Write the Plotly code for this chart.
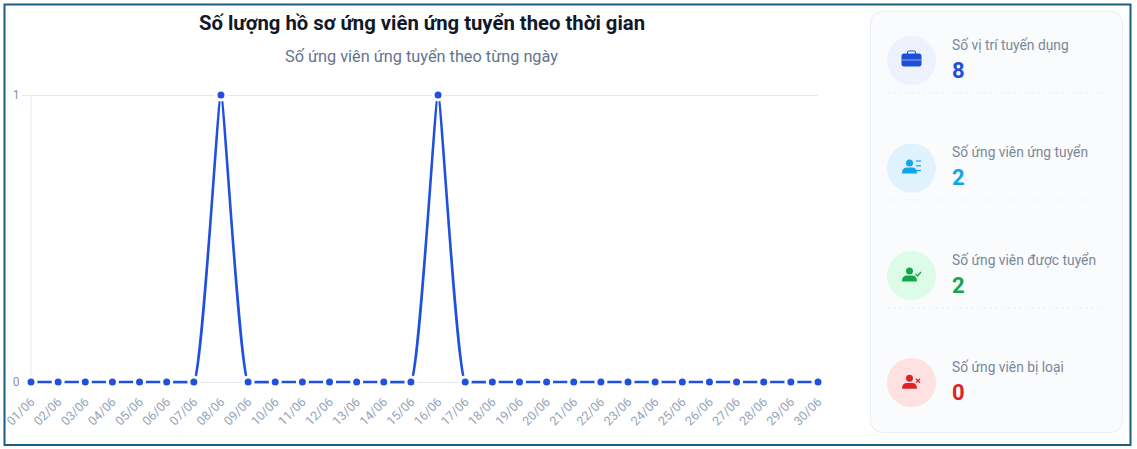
import plotly.graph_objects as go

W, H = 1137, 449
days = [f"{d:02d}/06" for d in range(1, 31)]
applications = [0,0,0,0,0,0,0,1,0,0,0,0,0,0,0,1,0,0,0,0,0,0,0,0,0,0,0,0,0,0]
y_ticks = [0, 1]
title_text = "Số lượng hồ sơ ứng viên ứng tuyển theo thời gian"
subtitle_text = "Số ứng viên ứng tuyển theo từng ngày"
stat_labels = ["Số vị trí tuyến dụng", "Số ứng viên ứng tuyển", "Số ứng viên được tuyển", "Số ứng viên bị loại"]
stat_values = [8, 2, 2, 0]
stat_colors = ["#1d4ed8", "#0ea5e9", "#16a34a", "#dc2626"]
stat_bgs = ["#eef2ff", "#e0f2fe", "#dcfce7", "#fee2e2"]
stat_centers = [60.5, 168, 275.5, 382.5]
stat_rules = [93, 200, 308, 417]

FONT = "Roboto"
LINE = "#2050de"
X0, X1, Y1, Y0 = 31, 818, 95, 382
PAD = 4     # px of breathing room so the flat line at zero is not clipped
CLIP = 1.3  # px below zero that the smoothed peaks may reach
pad_v = PAD / (Y0 - Y1)
clip_v = CLIP / (Y0 - Y1)
px = lambda x: x / W
py = lambda y: 1 - y / H

fig = go.Figure()

# flat stretches: straight line, broken at non-zero days
flat_y = [None if v != 0 else v for v in applications]
fig.add_trace(go.Scatter(x=days, y=flat_y, mode="lines", connectgaps=False,
                         line=dict(color=LINE, width=2.6), hoverinfo="skip", showlegend=False))

# peaks: smoothed through the neighbouring days, drawn on an axis clipped just under zero
for i, v in enumerate(applications):
    if v != 0:
        fig.add_trace(go.Scatter(x=days[i-2:i+3], y=applications[i-2:i+3], mode="lines", yaxis="y2",
                                 line=dict(color=LINE, width=2.6, shape="spline", smoothing=0.35),
                                 hoverinfo="skip", showlegend=False))

# markers last so their white ring sits over the line
fig.add_trace(go.Scatter(x=days, y=applications, mode="markers", yaxis="y3",
                         marker=dict(color=LINE, size=10, line=dict(color="white", width=3)),
                         cliponaxis=False, hoverinfo="skip", showlegend=False))

shapes, annos = [], []

def rect(x0, y0, x1, y1, **kw):
    shapes.append(dict(type="rect", xref="paper", yref="paper", x0=px(x0), x1=px(x1), y0=py(y0), y1=py(y1), **kw))

def round_rect(x0, y0, x1, y1, r, fill, line):
    d = (f"M{px(x0+r)},{py(y0)} L{px(x1-r)},{py(y0)} Q{px(x1)},{py(y0)} {px(x1)},{py(y0+r)} "
         f"L{px(x1)},{py(y1-r)} Q{px(x1)},{py(y1)} {px(x1-r)},{py(y1)} L{px(x0+r)},{py(y1)} "
         f"Q{px(x0)},{py(y1)} {px(x0)},{py(y1-r)} L{px(x0)},{py(y0+r)} Q{px(x0)},{py(y0)} {px(x0+r)},{py(y0)} Z")
    shapes.append(dict(type="path", xref="paper", yref="paper", path=d, fillcolor=fill, line=dict(color=line, width=1), layer="below"))

def circle(cx, cy, r, fill):
    shapes.append(dict(type="circle", xref="paper", yref="paper", x0=px(cx-r), x1=px(cx+r), y0=py(cy-r), y1=py(cy+r),
                       fillcolor=fill, line=dict(width=0), layer="below"))

def seg(x0, y0, x1, y1, color, width=1, dash=None):
    shapes.append(dict(type="line", xref="paper", yref="paper", x0=px(x0), x1=px(x1), y0=py(y0), y1=py(y1),
                       line=dict(color=color, width=width, dash=dash) if dash else dict(color=color, width=width), layer="below"))

def text(x, y, s, size, color, bold=False, anchor="left"):
    annos.append(dict(xref="paper", yref="paper", x=px(x), y=py(y), text=f"<b>{s}</b>" if bold else s, showarrow=False,
                      xanchor=anchor, yanchor="middle", font=dict(family=FONT, size=size, color=color)))

def person(cx, cy, color):
    circle(cx, cy - 4, 3.5, color)
    d = (f"M{px(cx-7.5)},{py(cy+6.5)} Q{px(cx-7.5)},{py(cy+0.6)} {px(cx-2.5)},{py(cy+0.6)} L{px(cx+2.5)},{py(cy+0.6)} "
         f"Q{px(cx+7.5)},{py(cy+0.6)} {px(cx+7.5)},{py(cy+6.5)} Z")
    shapes.append(dict(type="path", xref="paper", yref="paper", path=d, fillcolor=color, line=dict(width=0), layer="below"))

# frame and card
rect(4.5, 4.5, 1130.5, 445, line=dict(color="#1a5f7f", width=2), fillcolor="rgba(0,0,0,0)", layer="below")
round_rect(870.5, 11.5, 1122.5, 432.5, 13, "#f9fbfd", "#e9eef4")

# vertical axis line stops at the value range
seg(X0, Y1, X0, Y0, "#e2e8f0", 1)

for i in range(4):
    cy = stat_centers[i]
    c = stat_colors[i]
    circle(911.5, cy, 24.5, stat_bgs[i])
    text(950, cy - 15.5, stat_labels[i], 13.8, "#7b8798")
    text(950, cy + 9.5, str(stat_values[i]), 22, c, bold=True)
    seg(887, stat_rules[i], 1105, stat_rules[i], "#edf1f5" if i < 3 else "#f4f6f9", 1, "dot")

# briefcase
cx, cy = 911.5, 60
round_rect(cx-9.5, cy-6, cx+9.5, cy+6, 1.5, stat_colors[0], stat_colors[0])
round_rect(cx-4, cy-9, cx+4, cy-5, 1, "rgba(0,0,0,0)", stat_colors[0])
seg(cx-9.5, cy, cx+9.5, cy, "#8fa6ec", 1)

# applicant + list
cx, cy = 909.5, 167
person(cx, cy, stat_colors[1])
for dy in (-6, -1.2, 3.5):
    seg(cx+6.5, cy+dy, cx+11.5, cy+dy, stat_colors[1], 1.2)

# hired + tick
cx, cy = 909.5, 275
person(cx, cy, stat_colors[2])
shapes.append(dict(type="path", xref="paper", yref="paper", layer="below",
    path=f"M{px(cx+6)},{py(cy-1)} L{px(cx+8)},{py(cy+1)} L{px(cx+11.5)},{py(cy-3)}",
    line=dict(color=stat_colors[2], width=1.3)))

# rejected + x
cx, cy = 909.5, 382.3
person(cx, cy, stat_colors[3])
seg(cx+6.5, cy-3.5, cx+10.5, cy+0.5, stat_colors[3], 1.3)
seg(cx+10.5, cy-3.5, cx+6.5, cy+0.5, stat_colors[3], 1.3)

text(421.5, 23, title_text, 20.3, "#111827", bold=True, anchor="center")
text(421.5, 56, subtitle_text, 16.3, "#64748b", anchor="center")

fig.update_layout(
    width=W, height=H, margin=dict(l=0, r=0, t=0, b=0, pad=0), autosize=False,
    paper_bgcolor="white", plot_bgcolor="rgba(0,0,0,0)",
    shapes=shapes, annotations=annos, showlegend=False,
    xaxis=dict(domain=[px(X0), px(X1)], type="category", categoryorder="array", categoryarray=days,
               range=[0, 29], tickmode="array", tickvals=days, ticktext=days, tickangle=-45, automargin=False,
               tickfont=dict(family=FONT, size=12.5, color="#94a3b8"), showgrid=False, zeroline=False,
               showline=False, ticks="", ticklabelstandoff=5, fixedrange=True),
    yaxis=dict(domain=[py(Y0 + PAD), py(Y1 - PAD)], range=[-pad_v, 1 + pad_v], tickmode="array", tickvals=y_ticks,
               ticktext=[str(v) for v in y_ticks], automargin=False,
               tickfont=dict(family=FONT, size=12, color="#8a94a6"), showgrid=True, gridcolor="#e2e8f0", gridwidth=1,
               zeroline=False, showline=False, ticks="outside", ticklen=8, tickcolor="#e2e8f0",
               fixedrange=True),
    yaxis2=dict(domain=[py(Y0 + CLIP), py(Y1 - PAD)], range=[-clip_v, 1 + pad_v], visible=False, anchor="x",
                automargin=False, fixedrange=True),
    yaxis3=dict(domain=[py(Y0 + PAD), py(Y1 - PAD)], range=[-pad_v, 1 + pad_v], visible=False, anchor="x",
                automargin=False, fixedrange=True),
)
fig.write_html("out.html", config={"displayModeBar": False}, post_script="document.body.style.margin='0';")
